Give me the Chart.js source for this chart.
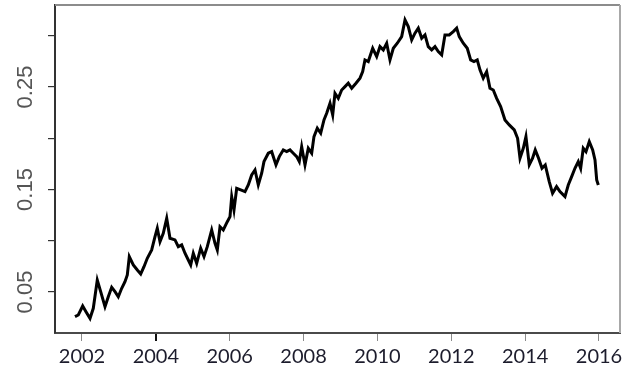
<!DOCTYPE html>
<html>
<head>
<meta charset="utf-8">
<script src="https://cdn.jsdelivr.net/npm/chart.js@4/dist/chart.umd.min.js"></script>
<style>
  body { margin: 0; background: #fff; }
  canvas { display: block; }
</style>
</head>
<body>
<canvas id="grafico" width="641" height="376"></canvas>
<script>
// ==========================
// Datos
// ==========================

const anios = [
  2001.810, 2001.900, 2002.019, 2002.108, 2002.217, 2002.306, 2002.414, 2002.506, 2002.623, 2002.712,
  2002.804, 2002.894, 2002.983, 2003.075, 2003.164, 2003.227, 2003.281, 2003.389, 2003.498, 2003.590,
  2003.679, 2003.768, 2003.887, 2003.977, 2004.039, 2004.112, 2004.201, 2004.294, 2004.383, 2004.518,
  2004.608, 2004.700, 2004.789, 2004.879, 2004.944, 2005.014, 2005.106, 2005.214, 2005.304, 2005.393,
  2005.512, 2005.602, 2005.664, 2005.737, 2005.826, 2005.935, 2006.008, 2006.054, 2006.116, 2006.189,
  2006.298, 2006.414, 2006.503, 2006.595, 2006.685, 2006.774, 2006.866, 2006.928, 2007.045, 2007.137,
  2007.253, 2007.343, 2007.451, 2007.543, 2007.633, 2007.722, 2007.814, 2007.884, 2007.949, 2008.039,
  2008.128, 2008.220, 2008.282, 2008.372, 2008.464, 2008.553, 2008.626, 2008.716, 2008.789, 2008.851,
  2008.940, 2009.032, 2009.122, 2009.211, 2009.303, 2009.419, 2009.528, 2009.601, 2009.663, 2009.752,
  2009.872, 2009.980, 2010.069, 2010.159, 2010.251, 2010.340, 2010.430, 2010.538, 2010.657, 2010.747,
  2010.836, 2010.928, 2011.017, 2011.107, 2011.199, 2011.288, 2011.377, 2011.469, 2011.559, 2011.648,
  2011.740, 2011.829, 2011.946, 2012.054, 2012.146, 2012.216, 2012.325, 2012.433, 2012.525, 2012.614,
  2012.703, 2012.777, 2012.866, 2012.958, 2013.048, 2013.137, 2013.229, 2013.337, 2013.454, 2013.570,
  2013.706, 2013.796, 2013.861, 2013.950, 2014.022, 2014.112, 2014.201, 2014.274, 2014.364, 2014.456,
  2014.545, 2014.653, 2014.743, 2014.851, 2014.943, 2015.079, 2015.168, 2015.260, 2015.349, 2015.439,
  2015.504, 2015.574, 2015.648, 2015.737, 2015.829, 2015.892, 2015.938, 2015.982
];

const valores = [
  0.0259, 0.0276, 0.0363, 0.0308, 0.0243, 0.0341, 0.0617, 0.0503, 0.0357, 0.0454,
  0.0546, 0.0503, 0.0454, 0.0536, 0.0601, 0.0666, 0.0845, 0.0764, 0.0715, 0.0676,
  0.0747, 0.0829, 0.0910, 0.1040, 0.1122, 0.0991, 0.1073, 0.1219, 0.1024, 0.1008,
  0.0942, 0.0959, 0.0878, 0.0812, 0.0764, 0.0878, 0.0780, 0.0927, 0.0845, 0.0942,
  0.1105, 0.0975, 0.0910, 0.1137, 0.1105, 0.1186, 0.1235, 0.1430, 0.1300, 0.1512,
  0.1496, 0.1479, 0.1544, 0.1642, 0.1691, 0.1544, 0.1659, 0.1772, 0.1854, 0.1869,
  0.1740, 0.1821, 0.1886, 0.1869, 0.1886, 0.1854, 0.1821, 0.1772, 0.1918, 0.1740,
  0.1902, 0.1854, 0.2016, 0.2098, 0.2049, 0.2179, 0.2244, 0.2342, 0.2228, 0.2439,
  0.2390, 0.2471, 0.2504, 0.2537, 0.2488, 0.2537, 0.2586, 0.2650, 0.2764, 0.2748,
  0.2878, 0.2797, 0.2894, 0.2862, 0.2927, 0.2764, 0.2878, 0.2927, 0.2992, 0.3155,
  0.3089, 0.2960, 0.3025, 0.3074, 0.2976, 0.3008, 0.2894, 0.2862, 0.2894, 0.2845,
  0.2813, 0.3008, 0.3008, 0.3041, 0.3074, 0.2992, 0.2927, 0.2878, 0.2764, 0.2748,
  0.2764, 0.2667, 0.2586, 0.2650, 0.2488, 0.2471, 0.2390, 0.2309, 0.2179, 0.2130,
  0.2081, 0.2000, 0.1805, 0.1902, 0.2016, 0.1740, 0.1805, 0.1886, 0.1805, 0.1707,
  0.1740, 0.1577, 0.1463, 0.1528, 0.1479, 0.1430, 0.1544, 0.1625, 0.1707, 0.1772,
  0.1707, 0.1902, 0.1869, 0.1967, 0.1886, 0.1788, 0.1593, 0.1544
];

const ticksX = [2002, 2004, 2006, 2008, 2010, 2012, 2014, 2016];
const ticksY = [0.05, 0.10, 0.15, 0.20, 0.25, 0.30];
const etiquetasY = ['0.05', '0.15', '0.25'];

// ==========================
// Marco superior y derecho
// ==========================

const marco = {
    id: 'marco',
    afterDraw(chart) {
        const { ctx, chartArea: a } = chart;
        ctx.save();
        ctx.lineWidth = 2;
        ctx.strokeStyle = '#8c8c8c';
        ctx.beginPath();
        ctx.moveTo(a.left, a.top);
        ctx.lineTo(a.right, a.top);
        ctx.stroke();
        ctx.strokeStyle = '#a8a8a8';
        ctx.beginPath();
        ctx.moveTo(a.right, a.top);
        ctx.lineTo(a.right, a.bottom);
        ctx.stroke();
        ctx.restore();
    }
};

// ==========================
// Gráfico
// ==========================

new Chart(document.getElementById('grafico'), {
    type: 'line',
    data: {
        datasets: [{
            data: anios.map((a, i) => ({ x: a, y: valores[i] })),
            borderColor: '#000',
            borderWidth: 3,
            pointRadius: 0,
            tension: 0
        }]
    },
    options: {
        responsive: false,
        animation: false,
        layout: { padding: { top: 5, right: 21, left: 0, bottom: 0 } },
        plugins: { legend: { display: false }, tooltip: { enabled: false } },
        scales: {
            x: {
                type: 'linear',
                min: 2001.269,
                max: 2016.569,
                afterBuildTicks: s => { s.ticks = ticksX.map(v => ({ value: v })); },
                afterFit: s => { s.height = 43; s.paddingLeft = 0; s.paddingRight = 0; },
                border: { display: true, color: '#4a4a4a', width: 2 },
                grid: {
                    drawOnChartArea: false,
                    drawTicks: true,
                    tickLength: 8,
                    color: c => c.tick && c.tick.value === 2004 ? '#111' : '#8a8a8a',
                    lineWidth: c => c.tick && c.tick.value === 2004 ? 2 : 1
                },
                ticks: {
                    color: '#1c1c2c',
                    padding: 4,
                    maxRotation: 0,
                    autoSkip: false,
                    font: { family: 'Lato', size: 20 },
                    callback: v => String(v)
                }
            },
            y: {
                min: 0.010,
                max: 0.330,
                afterBuildTicks: s => { s.ticks = ticksY.map(v => ({ value: v })); },
                afterFit: s => { s.width = 55; s.paddingTop = 0; s.paddingBottom = 0; },
                border: { display: true, color: '#333', width: 2 },
                grid: {
                    drawOnChartArea: false,
                    drawTicks: true,
                    tickLength: 7,
                    color: '#333',
                    lineWidth: 1.2
                },
                ticks: {
                    color: '#555',
                    minRotation: 90,
                    maxRotation: 90,
                    crossAlign: 'center',
                    padding: 1,
                    autoSkip: false,
                    font: { family: 'Liberation Sans', size: 22 },
                    callback: v => {
                        const t = v.toFixed(2);
                        return etiquetasY.includes(t) ? t : '';
                    }
                }
            }
        }
    },
    plugins: [marco]
});
</script>
</body>
</html>
